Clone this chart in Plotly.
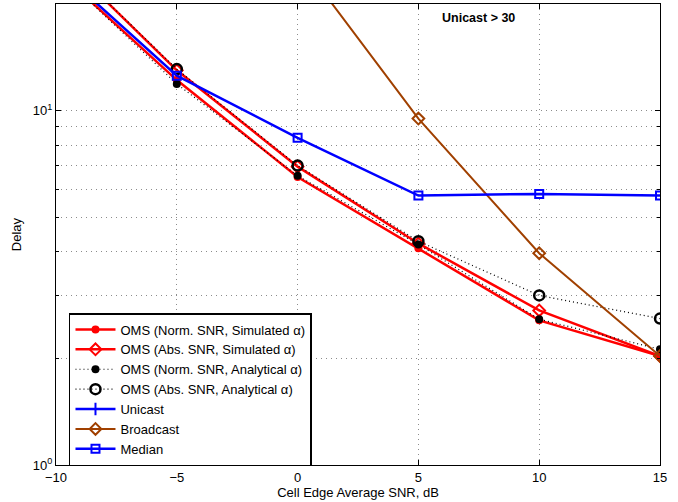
import plotly.graph_objects as go
import math

snr = [-10, -5, 0, 5, 10, 15]

oms_norm_sim = [25.0, 12.2, 6.5, 4.09, 2.56, 2.03]
oms_abs_sim = [28.0, 13.0, 6.95, 4.22, 2.73, 2.03]
oms_norm_ana = [25.0, 11.9, 6.55, 4.19, 2.58, 2.12]
oms_abs_ana = [28.0, 13.1, 7.0, 4.28, 3.01, 2.59]
unicast = [60.0, 50.0, 45.0, 40.0, 36.0, 33.0]
broadcast = [250.0, 80.0, 27.0, 9.5, 3.96, 2.03]
median = [25.5, 12.55, 8.38, 5.76, 5.82, 5.76]

xtick_vals = [-10, -5, 0, 5, 10, 15]
xtick_text = ["\u221210", "\u22125", "0", "5", "10", "15"]
ytick_vals = [1, 10]
ytick_text = ["10<sup>0</sup>", "10<sup>1</sup>"]
yminor_vals = [2, 3, 4, 5, 6, 7, 8, 9, 20]

RED = "#FF0000"
BLUE = "#0000FF"
BROWN = "#A04000"
FONT = "Liberation Sans, Arial, sans-serif"
GRID = "#8c8c8c"
GDASH = "1px,4px"

fig = go.Figure()
fig.add_trace(go.Scatter(x=snr, y=oms_norm_sim, name="OMS (Norm. SNR, Simulated \u03b1)",
                         mode="lines+markers", line=dict(color=RED, width=2.5),
                         marker=dict(symbol="circle", size=8, color=RED)))
fig.add_trace(go.Scatter(x=snr, y=oms_abs_sim, name="OMS (Abs. SNR, Simulated \u03b1)",
                         mode="lines+markers", line=dict(color=RED, width=2.5),
                         marker=dict(symbol="diamond-open", size=9, color=RED, line=dict(width=2, color=RED))))
fig.add_trace(go.Scatter(x=snr, y=oms_norm_ana, name="OMS (Norm. SNR, Analytical \u03b1)",
                         mode="lines+markers", line=dict(color="black", width=1.2, dash="1px,3px"),
                         marker=dict(symbol="circle", size=8, color="black")))
fig.add_trace(go.Scatter(x=snr, y=oms_abs_ana, name="OMS (Abs. SNR, Analytical \u03b1)",
                         mode="lines+markers", line=dict(color="black", width=1.2, dash="1px,3px"),
                         marker=dict(symbol="circle-open", size=10, color="black", line=dict(width=2.5, color="black"))))
fig.add_trace(go.Scatter(x=snr, y=unicast, name="Unicast",
                         mode="lines+markers", line=dict(color=BLUE, width=2.5),
                         marker=dict(symbol="cross-thin-open", size=9, color=BLUE, line=dict(width=2, color=BLUE))))
fig.add_trace(go.Scatter(x=snr, y=broadcast, name="Broadcast",
                         mode="lines+markers", line=dict(color=BROWN, width=2),
                         marker=dict(symbol="diamond-open", size=9, color=BROWN, line=dict(width=2, color=BROWN))))
fig.add_trace(go.Scatter(x=snr, y=median, name="Median",
                         mode="lines+markers", line=dict(color=BLUE, width=2.5),
                         marker=dict(symbol="square-open", size=8, color=BLUE, line=dict(width=2, color=BLUE))))

fig.add_annotation(text="<b>Unicast > 30</b>", xref="paper", yref="paper", x=0.699, y=0.97,
                   xanchor="center", yanchor="middle", showarrow=False,
                   font=dict(family=FONT, size=12.5, color="black"))

fig.update_layout(
    width=678, height=502,
    margin=dict(l=56, r=18, t=4, b=37),
    paper_bgcolor="white", plot_bgcolor="white",
    font=dict(family=FONT, size=13, color="black"),
    showlegend=True,
    legend=dict(x=0.0215, y=0.3297, xanchor="left", yanchor="top",
                bgcolor="white", bordercolor="black", borderwidth=1.5,
                font=dict(family=FONT, size=13, color="black"),
                tracegroupgap=0, itemwidth=40),
)
fig.update_xaxes(range=[-10, 15], tickvals=xtick_vals, ticktext=xtick_text,
                 showline=True, linecolor="black", linewidth=1, mirror="ticks",
                 ticks="inside", ticklen=5, tickcolor="black",
                 showgrid=True, gridcolor=GRID, griddash=GDASH, gridwidth=1,
                 zeroline=False,
                 title=dict(text="Cell Edge Average SNR, dB", standoff=2, font=dict(size=13)),
                 tickfont=dict(size=13))
fig.update_yaxes(type="log", range=[0, math.log10(20)], tickvals=ytick_vals, ticktext=ytick_text,
                 showline=True, linecolor="black", linewidth=1, mirror="ticks",
                 ticks="inside", ticklen=5, tickcolor="black",
                 showgrid=True, gridcolor=GRID, griddash=GDASH, gridwidth=1,
                 minor=dict(tickvals=yminor_vals, ticks="inside", ticklen=3, tickcolor="black",
                            showgrid=True, gridcolor=GRID, griddash=GDASH, gridwidth=1),
                 zeroline=False,
                 title=dict(text="Delay", standoff=8, font=dict(size=13)),
                 tickfont=dict(size=13))

fig.write_html("out.html", config={"displayModeBar": False},
               post_script="document.body.style.margin='0';")
